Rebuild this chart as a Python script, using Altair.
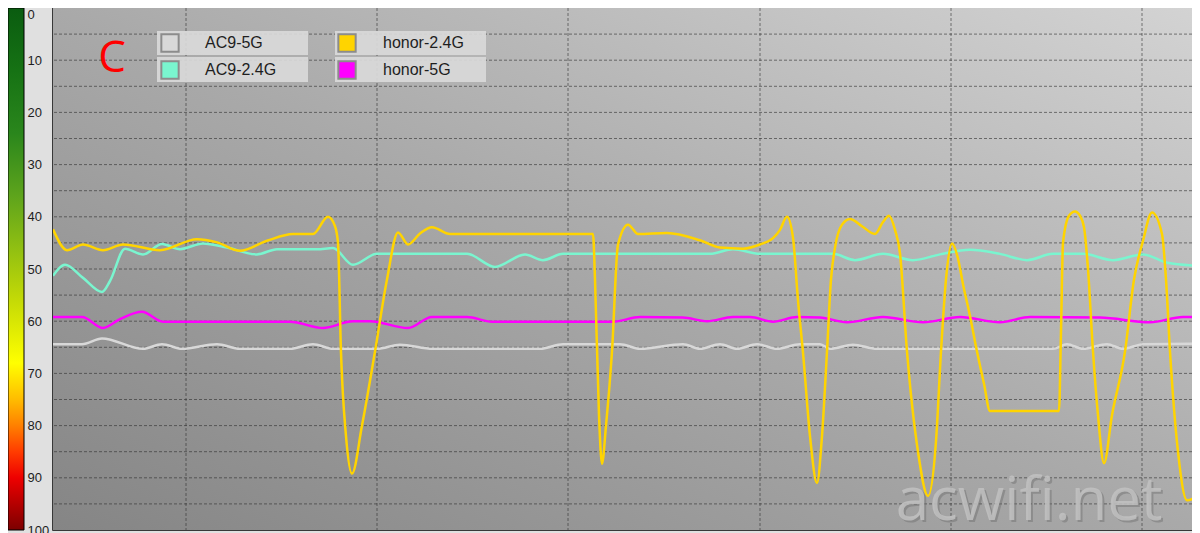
import altair as alt
import pandas as pd

# ---------------- data (time in sample units, signal strength in -dBm) ----------------
series_names = ["AC9-5G", "AC9-2.4G", "honor-2.4G", "honor-5G"]
series_colors = ["#d8d8d8", "#7af5cf", "#ffd400", "#ff00ff"]

ac9_5g_t = [53, 82, 102, 143, 162, 182, 217, 240, 290, 313, 333, 377, 400, 433, 540, 563, 620, 640,
            683, 700, 720, 737, 757, 777, 800, 820, 830, 853, 877, 1053, 1067, 1083, 1107, 1123, 1143, 1201]
ac9_5g_v = [64.4, 64.4, 63.3, 65.3, 64.4, 65.3, 64.4, 65.3, 65.3, 64.4, 65.3, 65.3, 64.5, 65.3, 65.3, 64.4, 64.4, 65.3,
            64.4, 65.3, 64.4, 65.3, 64.4, 65.3, 64.4, 64.4, 65.3, 64.5, 65.3, 65.3, 64.4, 65.3, 64.4, 65.3, 64.4, 64.3]

ac9_24g_t = [53, 65, 83, 102, 110, 125, 143, 162, 180, 203, 227, 257, 277, 317, 333, 353, 377, 400, 467, 495,
             525, 543, 563, 710, 733, 760, 833, 855, 883, 913, 940, 970, 1000, 1027, 1053, 1083, 1113, 1143, 1167, 1201]
ac9_24g_v = [51.3, 49.2, 51.7, 54.4, 52.3, 46.1, 47.2, 45.2, 46.2, 45.1, 45.9, 47.2, 46.2, 46.2, 46.0, 49.2, 47.1, 47.1, 47.1, 49.6,
             47.2, 48.3, 47.1, 47.1, 46.2, 47.1, 47.1, 48.3, 47.1, 48.3, 47.2, 46.3, 47.1, 48.3, 47.1, 47.1, 48.3, 47.2, 48.8, 49.4]

honor_5g_t = [53, 82, 103, 120, 142, 163, 290, 323, 353, 370, 408, 432, 467, 492, 613, 640, 683, 707, 733, 750,
              773, 797, 820, 847, 883, 923, 960, 1000, 1030, 1100, 1150, 1183, 1201]
honor_5g_v = [59.2, 59.2, 61.3, 59.6, 58.2, 60.1, 60.1, 61.3, 60.0, 60.0, 61.3, 59.2, 59.2, 60.1, 60.1, 59.2, 59.3, 60.0, 59.2, 59.2,
              60.1, 59.2, 59.3, 60.2, 59.2, 60.2, 59.2, 60.2, 59.2, 59.3, 60.2, 59.2, 59.2]

honor_24g_t = [53, 67, 83, 103, 123, 160, 197, 217, 240, 267, 293, 313, 328, 335, 338, 341, 346, 352, 362, 375,
               387, 398, 408, 420, 432, 450, 593, 595, 599, 602, 606, 612, 618, 628, 638, 667, 700, 720, 743, 760,
               773, 780, 787, 793, 798, 803, 810, 817, 822, 827, 831, 835, 842, 850, 862, 875, 883, 889, 895, 900,
               907, 918, 928, 936, 941, 946, 952, 958, 963, 970, 977, 984, 990, 1059, 1061, 1063, 1069, 1075, 1080, 1084,
               1088, 1093, 1098, 1104, 1112, 1125, 1134, 1143, 1152, 1162, 1166, 1170, 1178, 1187, 1193, 1201]
honor_24g_v = [42.4, 46.4, 45.3, 46.4, 45.3, 46.4, 44.3, 44.9, 46.5, 44.6, 43.3, 43.3, 40.0, 41.8, 45.0, 66.0, 82.0, 89.2, 80.0, 65.8,
               52.0, 43.0, 45.3, 43.2, 42.0, 43.3, 43.3, 52.0, 78.0, 87.3, 80.0, 65.8, 45.3, 41.5, 43.3, 43.1, 44.5, 45.9, 46.1, 45.3,
               44.1, 42.5, 40.0, 44.0, 56.0, 66.0, 82.0, 91.0, 82.0, 65.8, 52.0, 45.9, 41.5, 40.4, 41.8, 43.3, 41.0, 39.8, 42.5, 47.0,
               65.8, 85.0, 93.5, 83.0, 65.8, 52.0, 45.1, 48.0, 52.9, 59.0, 65.8, 72.0, 77.2, 77.2, 62.0, 45.0, 39.8, 39.0, 39.8, 42.0,
               50.0, 65.8, 78.0, 87.2, 78.0, 65.8, 52.0, 44.6, 39.2, 43.3, 52.0, 65.8, 85.0, 94.3, 94.0, 91.5]

y_label_values = [0, 10, 20, 30, 40, 50, 60, 70, 80, 90, 100]
h_grid_values = [5, 10, 15, 20, 25, 30, 35, 40, 45, 50, 55, 60, 65, 70, 75, 80, 85, 90, 95]
v_grid_values = [186, 377, 568, 760, 951, 1142]

# ---------------- tables ----------------
series_data = {
    "AC9-5G": (ac9_5g_t, ac9_5g_v),
    "AC9-2.4G": (ac9_24g_t, ac9_24g_v),
    "honor-2.4G": (honor_24g_t, honor_24g_v),
    "honor-5G": (honor_5g_t, honor_5g_v),
}

def series_df(name):
    ts, vs = series_data[name]
    return pd.DataFrame({"name": name, "t": ts, "v": vs})

# layout (pixels inside the plot area)
W, H = 1139, 522
X_END = 53 + W
FONT = "Liberation Sans"
leg_col = {"AC9-5G": 0, "AC9-2.4G": 0, "honor-2.4G": 1, "honor-5G": 1}
leg_row = {"AC9-5G": 0, "AC9-2.4G": 1, "honor-2.4G": 0, "honor-5G": 1}
col_sym_x = [117, 294]
col_txt_x = [152, 330]
col_box = [(104, 255), (282, 433)]
row_y = [35, 62]
row_box = [(23, 47), (49, 74)]
leg_df = pd.DataFrame({
    "name": series_names,
    "sx": [col_sym_x[leg_col[n]] for n in series_names],
    "tx": [col_txt_x[leg_col[n]] for n in series_names],
    "sy": [row_y[leg_row[n]] for n in series_names],
    "bx0": [col_box[leg_col[n]][0] for n in series_names],
    "bx1": [col_box[leg_col[n]][1] for n in series_names],
    "by0": [row_box[leg_row[n]][0] for n in series_names],
    "by1": [row_box[leg_row[n]][1] for n in series_names],
})

x_scale = alt.Scale(domain=[53, X_END], nice=False, zero=False)
y_scale = alt.Scale(domain=[0, 100], reverse=True, nice=False, zero=False)
color_scale = alt.Scale(domain=series_names, range=series_colors)

yaxis = alt.Axis(
    values=y_label_values, grid=False, ticks=False, tickSize=0, domain=False,
    labelAlign="left", labelPadding=26, labelFont=FONT, labelFontSize=13,
    labelColor="#1e1e1e", labelFlush=False, labelOverlap=False, title=None,
    labelBaseline={"condition": {"test": "datum.value == 0", "value": "top"}, "value": "middle"},
)

one = pd.DataFrame({"k": [0]})

bg = alt.Chart(one).mark_rect(
    color=alt.LinearGradient(
        gradient="linear",
        stops=[alt.GradientStop(color="#858585", offset=0),
               alt.GradientStop(color="#a9a9a9", offset=0.5),
               alt.GradientStop(color="#d3d3d3", offset=1)],
        x1=0, y1=1, x2=1, y2=0,
    )
).encode(x=alt.value(0), x2=alt.value(W), y=alt.value(0), y2=alt.value(H))

colorbar = alt.Chart(one).mark_rect(
    stroke="#000000", strokeWidth=1,
    color=alt.LinearGradient(
        gradient="linear",
        stops=[alt.GradientStop(color="#0a5c10", offset=0.0),
               alt.GradientStop(color="#167214", offset=0.12),
               alt.GradientStop(color="#2a861c", offset=0.24),
               alt.GradientStop(color="#5ea41c", offset=0.36),
               alt.GradientStop(color="#90bf12", offset=0.46),
               alt.GradientStop(color="#c4da06", offset=0.56),
               alt.GradientStop(color="#ffff00", offset=0.68),
               alt.GradientStop(color="#ffbc00", offset=0.75),
               alt.GradientStop(color="#ff8000", offset=0.80),
               alt.GradientStop(color="#ff3c00", offset=0.85),
               alt.GradientStop(color="#ee0000", offset=0.90),
               alt.GradientStop(color="#7c0000", offset=1.0)],
        x1=0, y1=0, x2=0, y2=1,
    )
).encode(x=alt.value(-45), x2=alt.value(-29), y=alt.value(0), y2=alt.value(H))

hgrid = alt.Chart(pd.DataFrame({"v": h_grid_values})).mark_rule(
    color="#2e2e2e", strokeDash=[3, 2], strokeWidth=1, opacity=0.6
).encode(y=alt.Y("v:Q", scale=y_scale, axis=yaxis))

vgrid = alt.Chart(pd.DataFrame({"t": v_grid_values})).mark_rule(
    color="#2e2e2e", strokeDash=[3, 2], strokeWidth=1, opacity=0.6
).encode(x=alt.X("t:Q", scale=x_scale, axis=None))

leg_box = alt.Chart(leg_df).mark_rect(color="#d9d9d9", opacity=0.92).encode(
    x=alt.X("bx0:Q", scale=None, axis=None), x2="bx1:Q",
    y=alt.Y("by0:Q", scale=None, axis=None), y2="by1:Q",
)
leg_sym = alt.Chart(leg_df).mark_square(size=300, stroke="#8c8c8c", strokeWidth=2, opacity=1).encode(
    x=alt.X("sx:Q", scale=None, axis=None),
    y=alt.Y("sy:Q", scale=None, axis=None),
    color=alt.Color("name:N", scale=color_scale, legend=None),
)
leg_txt = alt.Chart(leg_df).mark_text(
    align="left", baseline="middle", font=FONT, fontSize=16, color="#1e1e1e"
).encode(
    x=alt.X("tx:Q", scale=None, axis=None),
    y=alt.Y("sy:Q", scale=None, axis=None),
    text="name:N",
)

def line_layer(name):
    return alt.Chart(series_df(name)).mark_line(interpolate="monotone", strokeWidth=2.5, clip=True).encode(
        x=alt.X("t:Q", scale=x_scale, axis=None),
        y=alt.Y("v:Q", scale=y_scale, axis=yaxis),
        color=alt.Color("name:N", scale=color_scale, legend=None),
    )

lines = [line_layer(n) for n in ["AC9-5G", "honor-5G", "AC9-2.4G", "honor-2.4G"]]

letter = alt.Chart(one).mark_text(
    text="C", font="Open Sans", fontSize=44, color="#ff0000", align="center", baseline="alphabetic"
).encode(x=alt.value(59), y=alt.value(64))

wm_shadow = alt.Chart(one).mark_text(
    text="acwifi.net", font="Open Sans", fontSize=60, color="#6e6e6e", opacity=0.45,
    align="center", baseline="alphabetic"
).encode(x=alt.value(978), y=alt.value(514))
wm_text = alt.Chart(one).mark_text(
    text="acwifi.net", font="Open Sans", fontSize=60, color="#c2c2c2", opacity=0.85,
    align="center", baseline="alphabetic"
).encode(x=alt.value(976), y=alt.value(512))

chart = alt.layer(
    bg, colorbar, hgrid, vgrid, leg_box, leg_sym, leg_txt, *lines, letter, wm_shadow, wm_text
).properties(
    width=W, height=H,
    autosize=alt.AutoSizeParams(type="none"),
    padding={"left": 45, "top": 0, "right": 0, "bottom": 3},
    background="#e0e0e0",
).configure_view(stroke="#000000", strokeWidth=1.5)

chart.save("out.html", embed_options={"renderer": "svg", "actions": False})
